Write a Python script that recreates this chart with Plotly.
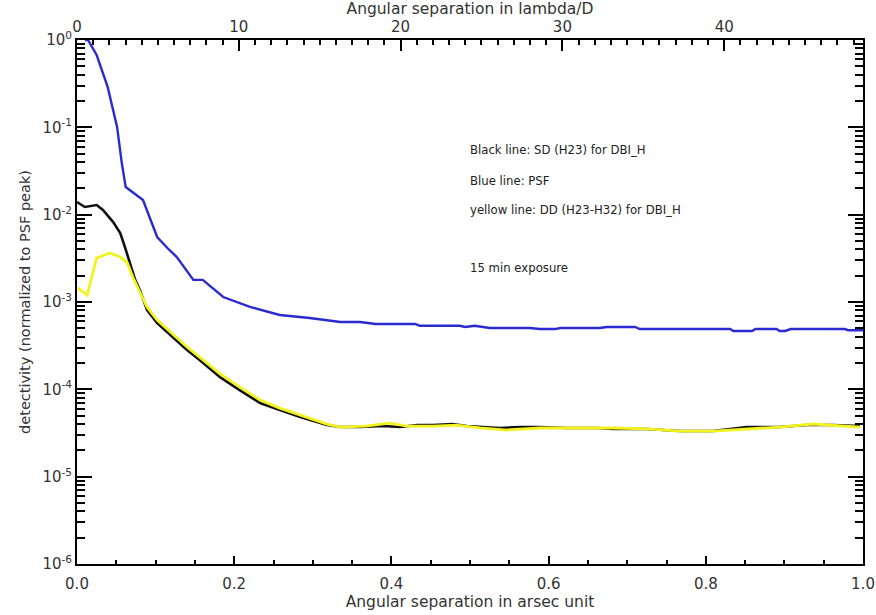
import math
import plotly.graph_objects as go

# ---- data (angular separation in arcsec, detectivity normalized to PSF peak) ----
psf_x = [0.010, 0.014, 0.025, 0.039, 0.051, 0.057, 0.062, 0.084, 0.102, 0.115, 0.127, 0.148, 0.160,
         0.186, 0.220, 0.258, 0.296, 0.335, 0.360, 0.380, 0.430, 0.436, 0.487, 0.494, 0.506, 0.525,
         0.576, 0.589, 0.608, 0.615, 0.665, 0.674, 0.710, 0.716, 0.831, 0.835, 0.859, 0.863, 0.890,
         0.894, 0.901, 0.908, 0.977, 0.981, 1.000]
psf_y = [1.0, 1.0, 0.673, 0.29, 0.101, 0.039, 0.0207, 0.0147, 0.00555, 0.00415, 0.00327, 0.00179,
         0.00179, 0.00114, 0.000877, 0.00071, 0.000656, 0.00059, 0.00059, 0.00056, 0.00056, 0.000535,
         0.000535, 0.000517, 0.000535, 0.000503, 0.000503, 0.00049, 0.00049, 0.000503, 0.000503,
         0.000517, 0.000517, 0.00049, 0.00049, 0.000466, 0.000466, 0.00049, 0.00049, 0.000466,
         0.000466, 0.00049, 0.00049, 0.000475, 0.000475]

sd_x = [0.000, 0.010, 0.025, 0.033, 0.046, 0.055, 0.061, 0.067, 0.074, 0.080, 0.089, 0.102, 0.122,
        0.140, 0.156, 0.182, 0.207, 0.233, 0.258, 0.284, 0.318, 0.335, 0.360, 0.389, 0.411, 0.433,
        0.453, 0.478, 0.496, 0.513, 0.538, 0.564, 0.589, 0.623, 0.662, 0.682, 0.725, 0.767, 0.809,
        0.852, 0.894, 0.929, 0.962, 0.996]
sd_y = [0.01396, 0.01224, 0.0129, 0.0113, 0.00823, 0.00616, 0.00426, 0.0028, 0.00179, 0.00137,
        0.00081, 0.000574, 0.000397, 0.000282, 0.000217, 0.000138, 9.8e-5, 6.97e-5, 5.79e-5, 4.82e-5,
        3.9e-5, 3.7e-5, 3.7e-5, 3.8e-5, 3.7e-5, 3.9e-5, 3.9e-5, 4.01e-5, 3.8e-5, 3.7e-5, 3.61e-5,
        3.7e-5, 3.7e-5, 3.61e-5, 3.61e-5, 3.52e-5, 3.52e-5, 3.33e-5, 3.33e-5, 3.7e-5, 3.7e-5, 3.9e-5,
        3.9e-5, 3.8e-5]

dd_x = [0.001, 0.013, 0.025, 0.042, 0.055, 0.064, 0.071, 0.080, 0.089, 0.102, 0.122, 0.140, 0.156,
        0.182, 0.207, 0.233, 0.258, 0.284, 0.318, 0.335, 0.367, 0.398, 0.420, 0.453, 0.483, 0.513,
        0.547, 0.589, 0.623, 0.662, 0.682, 0.725, 0.767, 0.809, 0.852, 0.894, 0.936, 0.970, 0.996]
dd_y = [0.00145, 0.0012, 0.00319, 0.00364, 0.00327, 0.0028, 0.00193, 0.00127, 0.000877, 0.000622,
        0.00043, 0.000305, 0.000234, 0.00015, 0.000106, 7.55e-5, 6.1e-5, 5.08e-5, 4.0e-5, 3.7e-5,
        3.8e-5, 4.11e-5, 3.8e-5, 3.8e-5, 3.9e-5, 3.61e-5, 3.42e-5, 3.61e-5, 3.61e-5, 3.61e-5, 3.61e-5,
        3.52e-5, 3.33e-5, 3.33e-5, 3.52e-5, 3.7e-5, 4.01e-5, 3.8e-5, 3.7e-5]

# conversion arcsec -> lambda/D (top axis)
lambda_d_per_arcsec = 48.58
x_range = [0.0, 1.0]
y_tick_vals = [1e0, 1e-1, 1e-2, 1e-3, 1e-4, 1e-5, 1e-6]
y_tick_text = ["10<sup>0</sup>", "10<sup>-1</sup>", "10<sup>-2</sup>", "10<sup>-3</sup>",
               "10<sup>-4</sup>", "10<sup>-5</sup>", "10<sup>-6</sup>"]
x_tick_vals = [0.0, 0.2, 0.4, 0.6, 0.8, 1.0]
x_tick_text = ["0.0", "0.2", "0.4", "0.6", "0.8", "1.0"]
top_tick_vals = [0, 10, 20, 30, 40]

notes = ["Black line: SD (H23) for DBI_H", "Blue line: PSF",
         "yellow line: DD (H23-H32) for DBI_H", "15 min exposure"]
note_y = [0.055, 0.0243, 0.0113, 0.00245]

FONT = "DejaVu Sans"
TXT = "#333333"

fig = go.Figure()
fig.add_trace(go.Scatter(x=sd_x, y=sd_y, mode="lines", line=dict(color="#111111", width=2.6),
                         name="SD", showlegend=False))
fig.add_trace(go.Scatter(x=dd_x, y=dd_y, mode="lines", line=dict(color="#f2f21e", width=2.8),
                         name="DD", showlegend=False))
fig.add_trace(go.Scatter(x=psf_x, y=psf_y, mode="lines", line=dict(color="#2a2ad2", width=2.4),
                         name="PSF", showlegend=False))
# invisible trace to carry the top (lambda/D) axis
fig.add_trace(go.Scatter(x=[x_range[0] * lambda_d_per_arcsec, x_range[1] * lambda_d_per_arcsec],
                         y=[1e-6, 1e-6], xaxis="x2", mode="lines", line=dict(width=0),
                         hoverinfo="skip", showlegend=False))

for t, yv in zip(notes, note_y):
    fig.add_annotation(x=0.497, y=math.log10(yv), xref="x", yref="y", yanchor="middle", text=t,
                       showarrow=False, xanchor="left",
                       font=dict(family=FONT, size=11.7, color="#222222"))

TITLE_SIZE = 15.5
TICK_SIZE = 15

fig.update_layout(
    width=876, height=615,
    margin=dict(l=77, r=13, t=40, b=51, autoexpand=False),
    paper_bgcolor="white", plot_bgcolor="white",
    font=dict(family=FONT, size=13, color=TXT),
    xaxis=dict(range=x_range, showline=True, linecolor="black", linewidth=2, mirror=False,
               automargin=False, ticklabelstandoff=5,
               ticks="inside", ticklen=8, tickwidth=2, tickcolor="black",
               tickvals=x_tick_vals, ticktext=x_tick_text, showgrid=False, zeroline=False,
               minor=dict(dtick=0.05, ticks="inside", ticklen=4, tickwidth=2, tickcolor="black",
                          showgrid=False),
               title=dict(text="Angular separation in arsec unit", standoff=3,
                          font=dict(size=TITLE_SIZE, color=TXT)),
               tickfont=dict(size=TICK_SIZE, color=TXT)),
    xaxis2=dict(range=[x_range[0] * lambda_d_per_arcsec, x_range[1] * lambda_d_per_arcsec],
                overlaying="x", side="top", anchor="y", showline=True, linecolor="black",
                automargin=False,
                linewidth=2, ticks="inside", ticklen=11, tickwidth=2, tickcolor="black",
                tickvals=top_tick_vals, showgrid=False, zeroline=False,
                minor=dict(dtick=1, ticks="inside", ticklen=5, tickwidth=2, tickcolor="black",
                           showgrid=False),
                title=dict(text="Angular separation in lambda/D", standoff=0,
                           font=dict(size=TITLE_SIZE, color=TXT)),
                tickfont=dict(size=TICK_SIZE, color=TXT)),
    yaxis=dict(type="log", range=[-6, 0], showline=True, linecolor="black", linewidth=2,
               automargin=False,
               mirror="ticks", ticks="inside", ticklen=15, tickwidth=2, tickcolor="black",
               tickvals=y_tick_vals, ticktext=y_tick_text, showgrid=False, zeroline=False,
               minor=dict(dtick="D1", ticks="inside", ticklen=8, tickwidth=2, tickcolor="black",
                          showgrid=False),
               title=dict(text="detectivity (normalized to PSF peak)", standoff=8,
                          font=dict(size=14.5, color=TXT)),
               tickfont=dict(size=TICK_SIZE, color=TXT)),
)

fig.write_html("out.html", config={"displayModeBar": False},
               post_script="document.body.style.margin='0';")
